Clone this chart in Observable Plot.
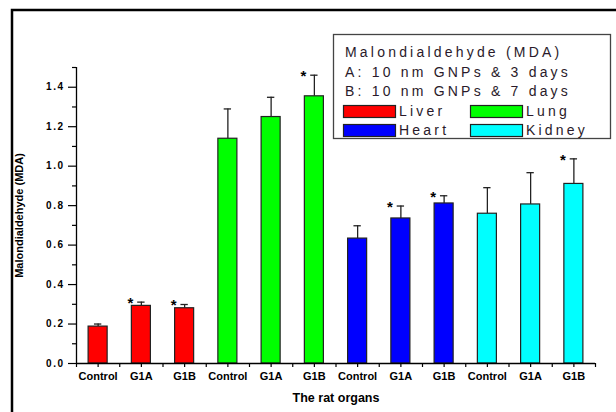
<!DOCTYPE html>
<html>
<head>
<meta charset="utf-8">
<script src="https://cdn.jsdelivr.net/npm/d3@7"></script>
<script src="https://cdn.jsdelivr.net/npm/@observablehq/plot@0.6"></script>
<style>
  html, body { margin: 0; padding: 0; background: #fff; }
  svg { display: block; }
</style>
</head>
<body>
<div id="chart"></div>
<script>
// MDA levels per organ and treatment group (mean and upper SD whisker)
const organs = ["Liver", "Lung", "Heart", "Kidney"];
const groups = ["Control", "G1A", "G1B"];
const organColors = ["#ff0000", "#00ff00", "#0000ff", "#00ffff"];

const liverMean  = [0.187, 0.292, 0.280];
const liverSD    = [0.013, 0.019, 0.019];
const lungMean   = [1.139, 1.249, 1.354];
const lungSD     = [0.151, 0.100, 0.107];
const heartMean  = [0.633, 0.735, 0.811];
const heartSD    = [0.065, 0.063, 0.039];
const kidneyMean = [0.759, 0.806, 0.910];
const kidneySD   = [0.132, 0.161, 0.127];

// groups marked significant (*)
const liverSig  = [false, true, true];
const lungSig   = [false, false, true];
const heartSig  = [false, true, true];
const kidneySig = [false, false, true];

const yTicks = [0.0, 0.2, 0.4, 0.6, 0.8, 1.0, 1.2, 1.4];
const yMinorTicks = [0.1, 0.3, 0.5, 0.7, 0.9, 1.1, 1.3, 1.5];

const legendTitle = "Malondialdehyde (MDA)";
const legendLineA = "A: 10 nm GNPs & 3 days";
const legendLineB = "B: 10 nm GNPs & 7 days";
const yLabel = "Malondialdehyde (MDA)";
const xLabel = "The rat organs";

const means = [liverMean, lungMean, heartMean, kidneyMean];
const sds = [liverSD, lungSD, heartSD, kidneySD];
const sigs = [liverSig, lungSig, heartSig, kidneySig];

const rows = [];
organs.forEach((organ, o) => {
  groups.forEach((group, g) => {
    rows.push({
      i: o * groups.length + g,
      organ, group,
      mean: means[o][g],
      top: means[o][g] + sds[o][g],
      sig: sigs[o][g]
    });
  });
});

const font = "'Liberation Sans', Arial, Helvetica, sans-serif";
const halfBar = 0.22;
const halfCap = 0.085;

const chart = Plot.plot({
  width: 616,
  height: 412,
  marginLeft: 76,
  marginRight: 21,
  marginTop: 67,
  marginBottom: 49,
  style: { fontFamily: font, color: "#000", background: "#fff", overflow: "visible" },
  x: { domain: [-0.5, rows.length - 0.5] },
  y: { domain: [0, 1.5] },
  color: { domain: organs, range: organColors },
  marks: [
    // error whiskers (upper only) with caps
    Plot.ruleX(rows, { x: "i", y1: "mean", y2: "top", stroke: "#222", strokeWidth: 1.3 }),
    Plot.ruleY(rows, { y: "top", x1: d => d.i - halfCap, x2: d => d.i + halfCap, stroke: "#222", strokeWidth: 1.3 }),
    // bars
    Plot.rectY(rows, {
      x1: d => d.i - halfBar, x2: d => d.i + halfBar, y: "mean",
      fill: "organ", stroke: "#222", strokeWidth: 1.2
    }),
    // significance marks
    Plot.text(rows.filter(d => d.sig), {
      x: "i", y: "top", text: () => "*", dx: -11, dy: 1,
      fontSize: 15, fontWeight: "bold", fill: "#000"
    }),
    // axis lines
    Plot.ruleX([-0.5], { stroke: "#000", strokeWidth: 1.3 }),
    Plot.ruleY([0], { stroke: "#000", strokeWidth: 1.3 }),
    // y axis
    Plot.axisY({
      ticks: yTicks, tickFormat: d3.format(".1f"), tickSize: 8, tickPadding: 4,
      fontSize: 10, fontWeight: "bold", label: null, strokeWidth: 1.2
    }),
    Plot.axisY({ ticks: yMinorTicks, tickFormat: () => "", tickSize: 4, label: null, strokeWidth: 1.2 }),
    // x axis
    Plot.axisX({
      ticks: rows.map(d => d.i), tickFormat: i => groups[i % groups.length],
      tickSize: 4, tickPadding: 5, fontSize: 11, fontWeight: "bold", label: null, strokeWidth: 1.2
    }),
    Plot.axisX({
      ticks: d3.range(-0.5, rows.length, 1), tickFormat: () => "",
      tickSize: 4, label: null, strokeWidth: 1.2
    }),
    // axis titles
    Plot.text([xLabel], { frameAnchor: "bottom", dy: 38, fontSize: 12.5, fontWeight: "bold", fill: "#000" }),
    Plot.text([yLabel], {
      frameAnchor: "left", textAnchor: "middle", dx: -57, rotate: -90,
      fontSize: 11, fontWeight: "bold", fill: "#000"
    })
  ]
});

document.getElementById("chart").appendChild(chart);

const svg = d3.select(chart);
svg.selectAll("[aria-label='y-axis tick label'] text").attr("letter-spacing", "1.5px");

// outer panel border (left and top edges)
svg.append("path")
  .attr("d", "M12,412V10H616")
  .attr("fill", "none")
  .attr("stroke", "#000")
  .attr("stroke-width", 2.5);

// legend box
const lg = svg.append("g")
  .attr("font-family", font)
  .attr("font-size", 14)
  .attr("text-anchor", "start")
  .attr("fill", "#2a1a2a");
lg.append("rect")
  .attr("x", 333.5).attr("y", 34.5).attr("width", 277).attr("height", 104)
  .attr("fill", "#fff").attr("stroke", "#444").attr("stroke-width", 1.3);

const textLines = [legendTitle, legendLineA, legendLineB];
const lineBaselines = [57, 77, 96];
textLines.forEach((t, k) => {
  lg.append("text").attr("x", 345).attr("y", lineBaselines[k])
    .attr("letter-spacing", "3.2px").text(t);
});

const swatchCols = [343, 470];
const swatchRows = [105, 124];
organs.forEach((organ, k) => {
  const cx = swatchCols[k % 2];
  const cy = swatchRows[Math.floor(k / 2)];
  lg.append("rect")
    .attr("x", cx + 0.5).attr("y", cy + 0.5).attr("width", 52).attr("height", 12)
    .attr("fill", organColors[k]).attr("stroke", "#222").attr("stroke-width", 1.2);
  lg.append("text").attr("x", cx + 56).attr("y", cy + 11)
    .attr("letter-spacing", "3.2px").text(organ);
});
</script>
</body>
</html>
